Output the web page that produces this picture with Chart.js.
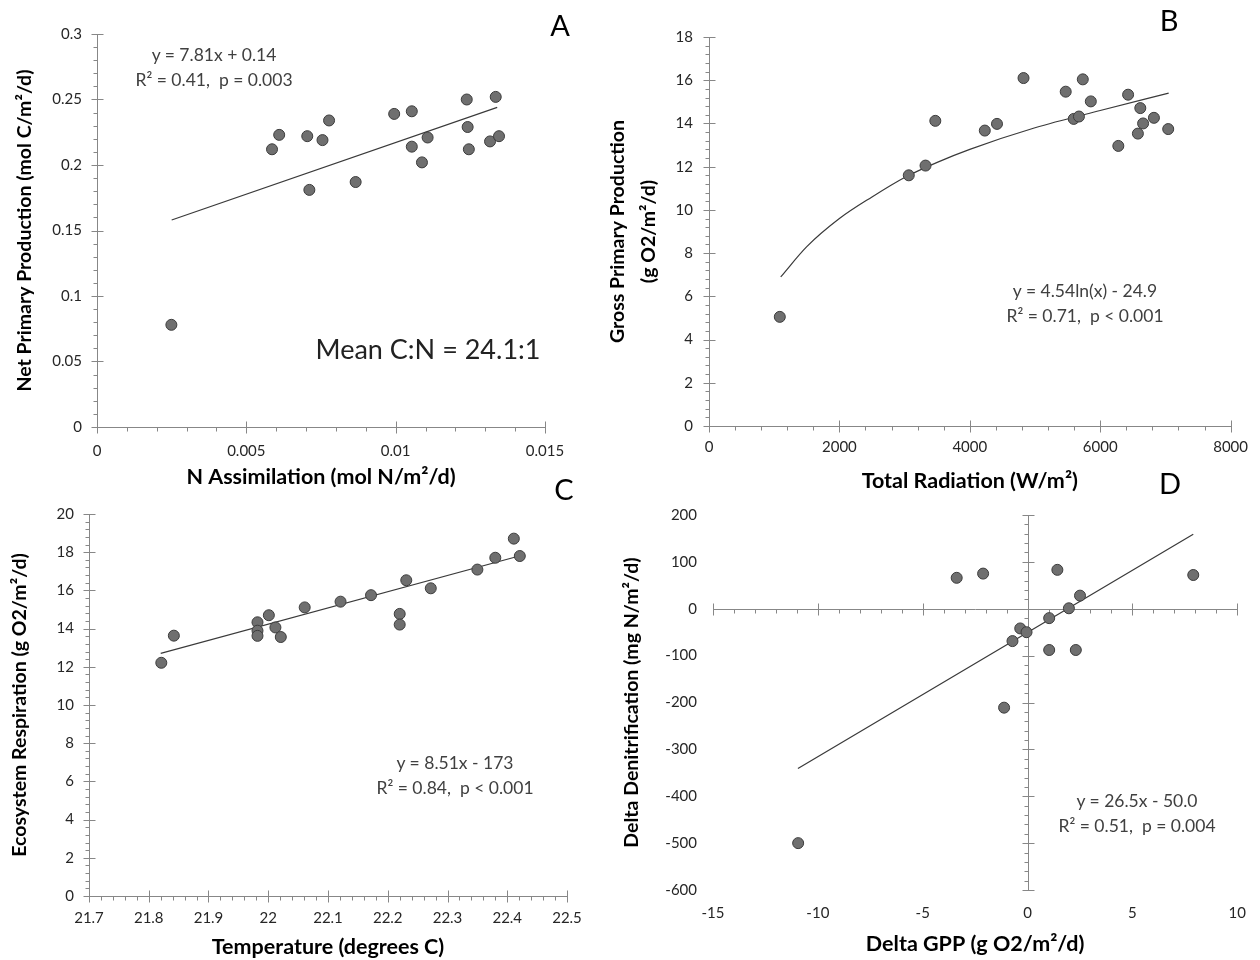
<!DOCTYPE html>
<html lang="en">
<head>
<meta charset="UTF-8">
<title>Production, respiration and denitrification</title>
<style>
  body { margin: 0; background: #fff; font-family: Lato, sans-serif; }
  #page { position: relative; width: 1260px; height: 960px; overflow: hidden; }
  #page canvas { position: absolute; }
  .note { position: absolute; color: #404040; font-size: 17.5px; line-height: 25px;
          text-align: center; white-space: nowrap; transform: translate(-50%, -50%); }
  .big { font-size: 27px; color: #222; }
  .letter { position: absolute; font-size: 29px; color: #000; transform: translate(-50%, -50%); }
</style>
</head>
<body>
<div id="page">
  <canvas id="chartA" width="600" height="490" style="left:0;top:0"></canvas>
  <canvas id="chartB" width="660" height="500" style="left:600px;top:0"></canvas>
  <canvas id="chartC" width="600" height="470" style="left:0;top:490px"></canvas>
  <canvas id="chartD" width="660" height="470" style="left:600px;top:490px"></canvas>

  <div class="letter" style="left:560px;top:24px">A</div>
  <div class="letter" style="left:1169px;top:19px">B</div>
  <div class="letter" style="left:564px;top:488px">C</div>
  <div class="letter" style="left:1170px;top:482px">D</div>

  <div class="note" style="left:214px;top:67px">y = 7.81x + 0.14<br>R² = 0.41,&nbsp; p = 0.003</div>
  <div class="note big" style="left:428px;top:348px">Mean C:N = 24.1:1</div>
  <div class="note" style="left:1085px;top:303px">y = 4.54ln(x) - 24.9<br>R² = 0.71,&nbsp; p &lt; 0.001</div>
  <div class="note" style="left:455px;top:775px">y = 8.51x - 173<br>R² = 0.84,&nbsp; p &lt; 0.001</div>
  <div class="note" style="left:1137px;top:813px">y = 26.5x - 50.0<br>R² = 0.51,&nbsp; p = 0.004</div>
</div>

<script src="https://cdn.jsdelivr.net/npm/chart.js"></script>
<script>
// A: N assimilation vs net primary production
const assimN = [0.00249, 0.00586, 0.0061, 0.00704, 0.00711, 0.00755, 0.00777, 0.00866, 0.00995, 0.01054,
                0.01054, 0.01088, 0.01107, 0.01238, 0.01241, 0.01245, 0.01316, 0.01335, 0.01346];
const npp = [0.078, 0.212, 0.223, 0.222, 0.181, 0.219, 0.234, 0.187, 0.239, 0.241,
             0.214, 0.202, 0.221, 0.250, 0.229, 0.212, 0.218, 0.252, 0.222];
const nppFitX = [0.0025, 0.0134];
const nppFitY = [0.158, 0.244];

// B: total radiation vs gross primary production
const radiation = [1086, 3064, 3321, 3471, 4230, 4417, 4824, 5471, 5594, 5674,
                   5733, 5856, 6278, 6428, 6578, 6615, 6658, 6824, 7043];
const gpp = [5.05, 11.6, 12.05, 14.12, 13.67, 13.98, 16.1, 15.47, 14.21, 14.32,
             16.04, 15.02, 12.96, 15.33, 13.53, 14.71, 14.0, 14.26, 13.74];
const gppFitX = [1100, 1500, 2000, 2500, 3000, 3500, 4000, 5000, 6000, 7050];
const gppFitY = [6.9, 8.3, 9.6, 10.6, 11.5, 12.2, 12.8, 13.8, 14.6, 15.4];

// C: temperature vs ecosystem respiration
const temperature = [21.821, 21.842, 21.982, 21.982, 21.982, 22.001, 22.012, 22.021, 22.061, 22.121,
                     22.172, 22.220, 22.220, 22.231, 22.272, 22.350, 22.380, 22.411, 22.421];
const respiration = [12.21, 13.63, 14.33, 13.89, 13.62, 14.70, 14.06, 13.56, 15.11, 15.41,
                     15.75, 14.77, 14.21, 16.53, 16.11, 17.09, 17.71, 18.71, 17.80];
const respFitX = [21.82, 22.42];
const respFitY = [12.7, 17.8];

// D: delta GPP vs delta denitrification
const deltaGpp = [-10.94, -3.38, -2.12, -1.12, -0.72, -0.35, -0.05, 1.03, 1.03, 1.42, 1.97, 2.30, 2.50, 7.90];
const deltaDenit = [-500, 66, 75, -211, -69, -42, -50, -20, -88, 83, 1, -88, 28, 72];
const denitFitX = [-10.95, 7.9];
const denitFitY = [-341, 159];

const pts = (xs, ys) => xs.map((x, i) => ({ x: x, y: ys[i] }));
const fmt = v => String(Math.round(v * 1e6) / 1e6);

// Excel-like axes: line plus major (crossing) and minor (outside) tick marks
const axisTicks = {
  id: 'axisTicks',
  beforeDatasetsDraw(chart, args, o) {
    const { ctx, scales: { x, y } } = chart;
    const px = v => Math.round(x.getPixelForValue(v)) + 0.5;
    const py = v => Math.round(y.getPixelForValue(v)) + 0.5;
    const hLine = py(o.xAt !== undefined ? o.xAt : y.min);
    const vLine = px(o.yAt !== undefined ? o.yAt : x.min);
    const isMajor = (v, step) => Math.abs(v / step - Math.round(v / step)) < 1e-6;
    ctx.save();
    ctx.strokeStyle = '#878787';
    ctx.lineWidth = 1;
    ctx.beginPath();
    ctx.moveTo(px(x.min), hLine); ctx.lineTo(px(x.max), hLine);
    ctx.moveTo(vLine, py(y.min)); ctx.lineTo(vLine, py(y.max));
    let n = Math.round((x.max - x.min) / o.xMinor);
    for (let i = 0; i <= n; i++) {
      const v = x.min + i * o.xMinor, p = px(v);
      if (isMajor(v, o.xMajor)) { ctx.moveTo(p, hLine - 6); ctx.lineTo(p, hLine + 6); }
      else { ctx.moveTo(p, hLine); ctx.lineTo(p, hLine + 4); }
    }
    n = Math.round((y.max - y.min) / o.yMinor);
    for (let i = 0; i <= n; i++) {
      const v = y.min + i * o.yMinor, p = py(v);
      if (isMajor(v, o.yMajor)) { ctx.moveTo(vLine - 6, p); ctx.lineTo(vLine + 6, p); }
      else { ctx.moveTo(vLine - 4, p); ctx.lineTo(vLine, p); }
    }
    ctx.stroke();
    ctx.restore();
  }
};

function panel(id, p) {
  const tickFont = { family: 'Lato', size: 15 };
  return new Chart(document.getElementById(id), {
    type: 'scatter',
    data: {
      datasets: [{
        data: pts(p.xs, p.ys),
        backgroundColor: '#6f6f6f',
        borderColor: '#3c3c3c',
        borderWidth: 1,
        pointRadius: 5.5
      }, {
        type: 'line',
        data: pts(p.fitX, p.fitY),
        borderColor: '#3a3a3a',
        borderWidth: 1.2,
        pointRadius: 0,
        fill: false,
        cubicInterpolationMode: 'monotone'
      }]
    },
    plugins: [axisTicks],
    options: {
      responsive: false,
      animation: false,
      events: [],
      layout: { padding: p.pad },
      plugins: { legend: { display: false }, tooltip: { enabled: false }, axisTicks: p.ticks },
      scales: {
        x: {
          type: 'linear', min: p.xMin, max: p.xMax,
          grid: { display: false, drawTicks: false }, border: { display: false },
          ticks: { stepSize: p.xStep, padding: p.xPad, color: '#262626', font: tickFont,
                   maxRotation: 0, autoSkip: false, callback: fmt },
          title: { display: true, text: p.xTitle, color: '#000',
                   font: { family: 'Lato', size: 21.5, weight: 'bold' }, padding: { top: 0, bottom: p.xTitlePad } },
          afterFit: s => { s.height = p.xHeight; }
        },
        y: {
          type: 'linear', min: p.yMin, max: p.yMax,
          grid: { display: false, drawTicks: false }, border: { display: false },
          ticks: { stepSize: p.yStep, padding: p.yPad, color: '#262626', font: tickFont,
                   autoSkip: false, callback: fmt },
          title: { display: true, text: p.yTitle, color: '#000',
                   font: { family: 'Lato', size: 19.5, weight: 'bold', lineHeight: p.yTitleLine || 1.2 },
                   padding: { top: p.yTitlePad, bottom: 0 } },
          afterFit: s => { s.width = p.yWidth; }
        }
      }
    }
  });
}

panel('chartA', {
  xs: assimN, ys: npp, fitX: nppFitX, fitY: nppFitY,
  xMin: 0, xMax: 0.015, xStep: 0.005, yMin: 0, yMax: 0.3, yStep: 0.05,
  ticks: { xMajor: 0.005, xMinor: 0.001, yMajor: 0.05, yMinor: 0.01 },
  pad: { left: 0, top: 34, right: 55, bottom: 0 }, yWidth: 97, xHeight: 63,
  xPad: 15, yPad: 15, xTitlePad: 0, yTitlePad: 13,
  xTitle: 'N Assimilation (mol N/m²/d)', yTitle: 'Net Primary Production (mol C/m²/d)'
});

panel('chartB', {
  xs: radiation, ys: gpp, fitX: gppFitX, fitY: gppFitY,
  xMin: 0, xMax: 8000, xStep: 2000, yMin: 0, yMax: 18, yStep: 2,
  ticks: { xMajor: 2000, xMinor: 400, yMajor: 2, yMinor: 0.4 },
  pad: { left: 0, top: 37, right: 26, bottom: 0 }, yWidth: 109, xHeight: 74,
  xPad: 12, yPad: 16, xTitlePad: 6, yTitlePad: 3, yTitleLine: 1.55,
  xTitle: 'Total Radiation (W/m²)', yTitle: ['Gross Primary Production', '(g O2/m²/d)']
});

panel('chartC', {
  xs: temperature, ys: respiration, fitX: respFitX, fitY: respFitY,
  xMin: 21.7, xMax: 22.5, xStep: 0.1, yMin: 0, yMax: 20, yStep: 2,
  ticks: { xMajor: 0.1, xMinor: 0.02, yMajor: 2, yMinor: 0.4 },
  pad: { left: 0, top: 12, right: 33, bottom: 0 }, yWidth: 89, xHeight: 64,
  xPad: 13, yPad: 15, xTitlePad: 0, yTitlePad: 8,
  xTitle: 'Temperature (degrees C)', yTitle: 'Ecosystem Respiration (g O2/m²/d)'
});

panel('chartD', {
  xs: deltaGpp, ys: deltaDenit, fitX: denitFitX, fitY: denitFitY,
  xMin: -15, xMax: 10, xStep: 5, yMin: -600, yMax: 200, yStep: 100,
  ticks: { xMajor: 5, xMinor: 1, yMajor: 100, yMinor: 20, xAt: 0, yAt: 0 },
  pad: { left: 0, top: 12, right: 21, bottom: 0 }, yWidth: 113, xHeight: 70,
  xPad: 14, yPad: 16, xTitlePad: 3, yTitlePad: 20,
  xTitle: 'Delta GPP (g O2/m²/d)', yTitle: 'Delta Denitrification (mg N/m²/d)'
});
</script>
</body>
</html>
